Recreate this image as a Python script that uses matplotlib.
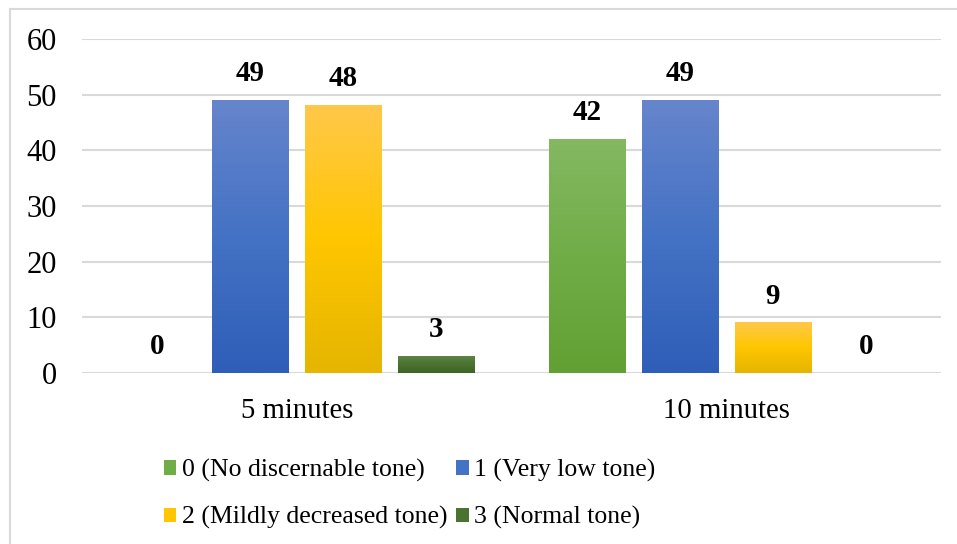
import numpy as np
import matplotlib
matplotlib.use("Agg")
from matplotlib import pyplot as plt
from matplotlib.colors import LinearSegmentedColormap
from matplotlib.lines import Line2D

categories = ["5 minutes", "10 minutes"]
series_names = ["0 (No discernable tone)", "1 (Very low tone)",
                "2 (Mildly decreased tone)", "3 (Normal tone)"]
no_tone = [0, 42]
very_low = [49, 49]
mildly_decreased = [48, 9]
normal = [3, 0]
series_values = [no_tone, very_low, mildly_decreased, normal]
y_ticks = [0, 10, 20, 30, 40, 50, 60]

# gradient stops (top, middle, bottom) per series, Excel-like fill
gradients = [
    ["#84B862", "#70AD47", "#62A033"],
    ["#6685CC", "#4472C4", "#2E5EB8"],
    ["#FFC84A", "#FFC600", "#E5B500"],
    ["#5E8248", "#4A7230", "#3E6324"],
]

plt.rcParams["font.family"] = ["Liberation Serif", "DejaVu Serif"]

fig = plt.figure(figsize=(9.57, 5.44), dpi=100)
ax = fig.add_axes([82 / 957, 171 / 544, 859 / 957, 334 / 544])

x = np.arange(len(categories))
bar_w = 0.177
step = 0.2165
offsets = (np.arange(len(series_names)) - 1.5) * step

handles = []
for i, (name, vals) in enumerate(zip(series_names, series_values)):
    cmap = LinearSegmentedColormap.from_list(f"g{i}", gradients[i][::-1])
    bars = ax.bar(x + offsets[i], vals, width=bar_w, color=gradients[i][1],
                  zorder=2, label=name)
    grad = np.linspace(0, 1, 256).reshape(-1, 1)
    for bar in bars:
        h = bar.get_height()
        if h > 0:
            bx, bw = bar.get_x(), bar.get_width()
            ax.imshow(grad, cmap=cmap, aspect="auto", origin="lower",
                      extent=[bx, bx + bw, 0, h], zorder=3)
        ax.text(bar.get_x() + bar.get_width() / 2, h + 2.4, str(int(h)),
                ha="center", va="bottom", fontsize=21, fontweight="bold")
    handles.append(bars)

ax.set_xlim(-0.5, 1.5)
ax.set_ylim(0, 60)
ax.set_yticks(y_ticks)
ax.set_xticks(x)
ax.set_xticklabels(categories)
ax.tick_params(axis="both", length=0)
ax.tick_params(axis="y", pad=18, labelsize=22)
ax.tick_params(axis="x", pad=18, labelsize=20.7)
ax.grid(axis="y", color="#D9D9D9", linewidth=1.5, zorder=0)
ax.set_axisbelow(True)
for s in ax.spines.values():
    s.set_visible(False)

# row-major legend order like Excel
order = [0, 2, 1, 3]
leg = fig.legend(handles=[handles[k] for k in order],
                 labels=[series_names[k] for k in order], ncol=2,
                 loc="upper left", bbox_to_anchor=(164 / 957, 1 - 459 / 544),
                 frameon=False, fontsize=18.5, handlelength=0.47,
                 handleheight=0.47, handletextpad=0.23, columnspacing=0.35,
                 labelspacing=0.94, borderaxespad=0, borderpad=0)

# light frame (cropped at right and bottom)
fig.add_artist(Line2D([10 / 957, 1], [1 - 9 / 544, 1 - 9 / 544],
                      color="#D9D9D9", linewidth=1.5))
fig.add_artist(Line2D([10 / 957, 10 / 957], [0, 1 - 9 / 544],
                      color="#D9D9D9", linewidth=1.5))

fig.savefig("out.png", dpi=100)
